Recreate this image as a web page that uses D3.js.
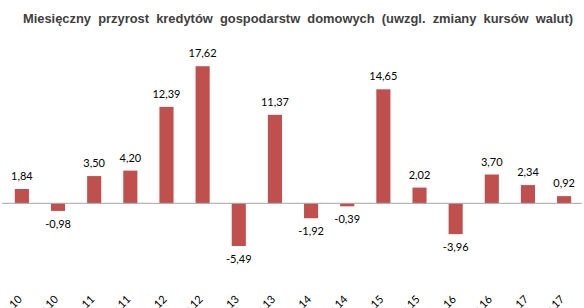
<!DOCTYPE html>
<html>
<head>
<meta charset="utf-8">
<script src="https://cdn.jsdelivr.net/npm/d3@7"></script>
<style>
  body { margin: 0; background: #fff; }
  svg { display: block; }
</style>
</head>
<body>
<div id="chart"></div>
<script>
// months (half-year steps) and monthly growth values
var months = ["cze.10", "gru.10", "cze.11", "gru.11", "cze.12", "gru.12", "cze.13", "gru.13",
              "cze.14", "gru.14", "cze.15", "gru.15", "cze.16", "gru.16", "cze.17", "gru.17"];
var values = [1.84, -0.98, 3.50, 4.20, 12.39, 17.62, -5.49, 11.37,
              -1.92, -0.39, 14.65, 2.02, -3.96, 3.70, 2.34, 0.92];

var width = 584, height = 308;

var svg = d3.select("#chart")
  .append("svg")
  .attr("width", width)
  .attr("height", height);

var x = d3.scaleBand()
  .domain(months)
  .range([4, 582])
  .paddingInner(0.61)
  .paddingOuter(0.3);

var y = d3.scaleLinear()
  .domain([-6, 18])
  .range([203.3 + 6 * 7.78, 203.3 - 18 * 7.78]);

svg.append("text")
  .attr("x", 298)
  .attr("y", 23)
  .attr("text-anchor", "middle")
  .style("font-family", "'Liberation Sans', Arial, sans-serif")
  .style("font-weight", "bold")
  .style("font-size", "12.9px")
  .style("white-space", "pre")
  .attr("fill", "#404040")
  .text("Miesięczny  przyrost  kredytów  gospodarstw  domowych  (uwzgl.  zmiany  kursów  walut)");

svg.selectAll(".bar")
  .data(values)
  .enter()
  .append("rect")
  .attr("class", "bar")
  .attr("x", function(d, i) { return x(months[i]); })
  .attr("width", x.bandwidth())
  .attr("y", function(d) { return y(Math.max(0, d)); })
  .attr("height", function(d) { return Math.abs(y(d) - y(0)); })
  .attr("fill", "#c0504d");

// zero line
svg.append("line")
  .attr("x1", 2)
  .attr("x2", 582)
  .attr("y1", y(0))
  .attr("y2", y(0))
  .attr("stroke", "#a6a6a6")
  .attr("stroke-width", 1);

svg.selectAll(".lbl")
  .data(values)
  .enter()
  .append("text")
  .attr("class", "lbl")
  .attr("x", function(d, i) { return x(months[i]) + x.bandwidth() / 2; })
  .attr("y", function(d) { return d >= 0 ? y(d) - 9 : y(d) + 17; })
  .attr("text-anchor", "middle")
  .style("font-family", "Lato, 'Open Sans', sans-serif")
  .style("font-size", "11px")
  .attr("fill", "#000")
  .text(function(d) { return d.toFixed(2).replace(".", ","); });

// category labels, rotated and cut off by the bottom edge as in the original
svg.selectAll(".cat")
  .data(months)
  .enter()
  .append("text")
  .attr("class", "cat")
  .attr("transform", function(d) {
    return "translate(" + (x(d) + x.bandwidth() / 2 + 1) + ",300) rotate(-45)";
  })
  .attr("text-anchor", "end")
  .style("font-family", "Lato, 'Open Sans', sans-serif")
  .style("font-size", "11px")
  .attr("fill", "#000")
  .text(function(d) { return d; });
</script>
</body>
</html>
